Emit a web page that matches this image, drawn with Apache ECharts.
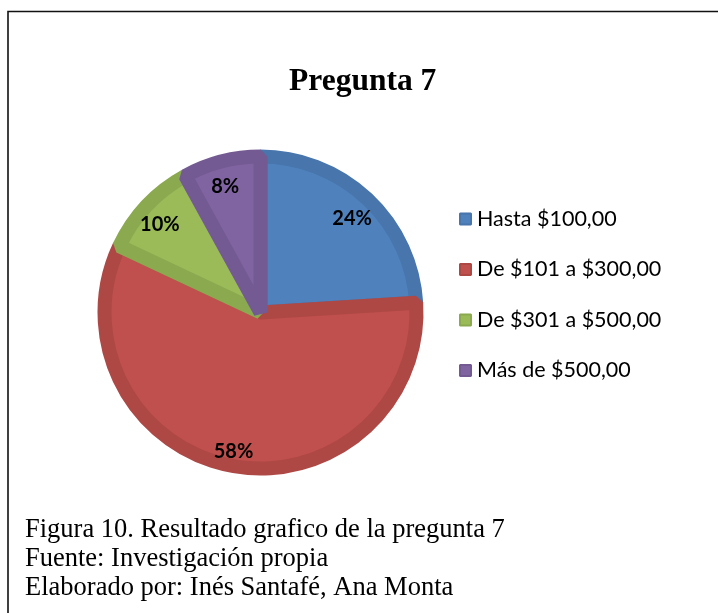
<!DOCTYPE html>
<html>
<head>
<meta charset="utf-8">
<script src="https://cdn.jsdelivr.net/npm/echarts@6/dist/echarts.min.js"></script>
<style>
  html, body { margin: 0; padding: 0; background: #fff; }
  #chart { width: 718px; height: 613px; }
</style>
</head>
<body>
<div id="chart"></div>
<script>
// Pie data
const categories = ['Hasta $100,00', 'De $101 a $300,00', 'De $301 a $500,00', 'Más de $500,00'];
const shares = [24, 58, 10, 8];
const fillColors = ['#4F81BD', '#C0504D', '#9BBB59', '#8064A2'];
const edgeColors = ['#4775AC', '#AE4845', '#8BA94F', '#735A92'];
const footerLines = [
  'Figura 10. Resultado grafico de la pregunta 7',
  'Fuente: Investigación propia',
  'Elaborado por: Inés Santafé, Ana Monta'
];

const chart = echarts.init(document.getElementById('chart'));

const pieData = categories.map((name, i) => ({
  name: name,
  value: shares[i],
  itemStyle: { color: fillColors[i], borderColor: edgeColors[i] }
}));

// labels sit ~82% out from the centre, so they come from a transparent ring
const labelData = categories.map((name, i) => ({ name: name, value: shares[i] }));

const options = {
  animation: false,
  title: {
    text: 'Pregunta 7',
    left: 289,
    top: 66,
    padding: 0,
    textStyle: { fontFamily: 'Liberation Serif', fontWeight: 'bold', fontSize: 31.5, color: '#000' }
  },
  legend: {
    data: categories,
    orient: 'vertical',
    left: 459,
    top: 208,
    padding: 0,
    itemWidth: 11,
    itemHeight: 11,
    itemGap: 28.5,
    icon: 'rect',
    selectedMode: false,
    textStyle: { fontFamily: 'Lato', fontSize: 21.5, color: '#000', lineHeight: 22, padding: [0, 0, 0, 1] }
  },
  series: [
    {
      name: 'Pregunta 7',
      type: 'pie',
      center: [260.5, 312.5],
      radius: [0, 156],
      startAngle: 90,
      clockwise: true,
      silent: true,
      itemStyle: { borderWidth: 14, borderJoin: 'bevel' },
      label: { show: false },
      labelLine: { show: false },
      data: pieData
    },
    {
      name: 'labels',
      type: 'pie',
      center: [259, 318],
      radius: [106, 160],
      startAngle: 90,
      clockwise: true,
      silent: true,
      legendHoverLink: false,
      itemStyle: { color: 'rgba(0,0,0,0)' },
      label: {
        show: true,
        position: 'inside',
        formatter: p => p.value + '%',
        fontFamily: 'Lato',
        fontWeight: 'bold',
        fontSize: 20,
        color: '#000'
      },
      labelLine: { show: false },
      data: labelData
    }
  ],
  graphic: [
    {
      type: 'polyline',
      shape: { points: [[8, 640], [8, 11.5], [740, 11.5]] },
      style: { stroke: '#111', lineWidth: 1.6, fill: null }
    }
  ].concat(footerLines.map((line, i) => ({
    type: 'text',
    left: 25,
    top: 517 + i * 29,
    style: { text: line, fontFamily: 'Liberation Serif', fontSize: 26.5, fill: '#000' }
  })))
};

chart.setOption(options);
</script>
</body>
</html>
